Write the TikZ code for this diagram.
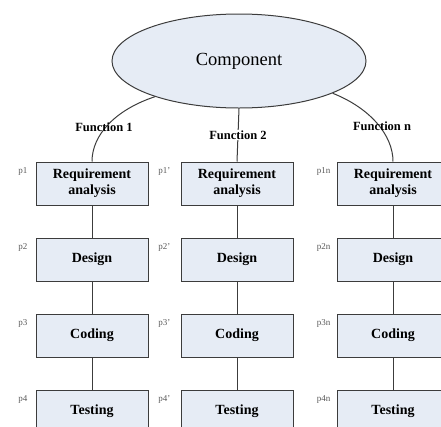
\documentclass[tikz,border=0pt]{standalone}
\usepackage{fontspec}
\setmainfont{Liberation Serif}
\usetikzlibrary{positioning,shapes.geometric}
\definecolor{boxfill}{RGB}{230,236,245}
\definecolor{boxline}{RGB}{60,60,60}
\tikzset{
  stage/.style={draw=boxline,fill=boxfill,line width=1pt,minimum width=112pt,minimum height=43pt,
    inner sep=0pt,align=center,font=\bfseries\fontsize{14}{16}\selectfont},
  plabel/.style={anchor=north east,text=black!65,inner sep=0pt,font=\fontsize{9}{10}\selectfont},
  flabel/.style={inner sep=1pt,font=\bfseries\fontsize{12.5}{13}\selectfont},
  link/.style={draw=boxline,line width=1pt}
}
\begin{document}
\begin{tikzpicture}[x=1pt,y=-1pt,node distance=32pt]
\useasboundingbox (0,0) rectangle (441,426);
\begin{scope}
\clip (0,0) rectangle (441,426);
\node[ellipse,draw=boxline,fill=boxfill,line width=1pt,minimum width=254pt,minimum height=94pt,
  font=\fontsize{18.5}{20}\selectfont] (comp) at (239,61) {Component};
% column 1
\node[stage] (ra1) at (92,183.5) {Requirement\\analysis};
\node[stage,below=of ra1] (de1) {Design};
\node[stage,below=of de1] (co1) {Coding};
\node[stage,below=of co1] (te1) {Testing};
% column 2
\node[stage] (ra2) at (237,183.5) {Requirement\\analysis};
\node[stage,below=of ra2] (de2) {Design};
\node[stage,below=of de2] (co2) {Coding};
\node[stage,below=of co2] (te2) {Testing};
% column n
\node[stage] (ra3) at (393,183.5) {Requirement\\analysis};
\node[stage,below=of ra3] (de3) {Design};
\node[stage,below=of de3] (co3) {Coding};
\node[stage,below=of co3] (te3) {Testing};
% phase labels
\node[plabel] at ([xshift=-8pt,yshift=-6pt]ra1.north west) {p1};
\node[plabel] at ([xshift=-8pt,yshift=-6pt]de1.north west) {p2};
\node[plabel] at ([xshift=-8pt,yshift=-6pt]co1.north west) {p3};
\node[plabel] at ([xshift=-8pt,yshift=-6pt]te1.north west) {p4};
\node[plabel] at ([xshift=-10pt,yshift=-6pt]ra2.north west) {p1'};
\node[plabel] at ([xshift=-10pt,yshift=-6pt]de2.north west) {p2'};
\node[plabel] at ([xshift=-10pt,yshift=-6pt]co2.north west) {p3'};
\node[plabel] at ([xshift=-10pt,yshift=-6pt]te2.north west) {p4'};
\node[plabel] at ([xshift=-6pt,yshift=-6pt]ra3.north west) {p1n};
\node[plabel] at ([xshift=-6pt,yshift=-6pt]de3.north west) {p2n};
\node[plabel] at ([xshift=-6pt,yshift=-6pt]co3.north west) {p3n};
\node[plabel] at ([xshift=-6pt,yshift=-6pt]te3.north west) {p4n};
% functions
\draw[link] (comp.203) .. controls (115,110) and (92,135) .. (ra1.north);
\draw[link] (comp.south) -- node[flabel,fill=white] {Function 2} (ra2.north);
\draw[link] (comp.341) .. controls (370,108) and (393,135) .. (ra3.north);
\node[flabel] at (104,127) {Function 1};
\node[flabel] at (382,126) {Function n};
% steps
\foreach \c in {1,2,3} {
  \draw[link] (ra\c) -- (de\c);
  \draw[link] (de\c) -- (co\c);
  \draw[link] (co\c) -- (te\c);
}
\end{scope}
\end{tikzpicture}
\end{document}
